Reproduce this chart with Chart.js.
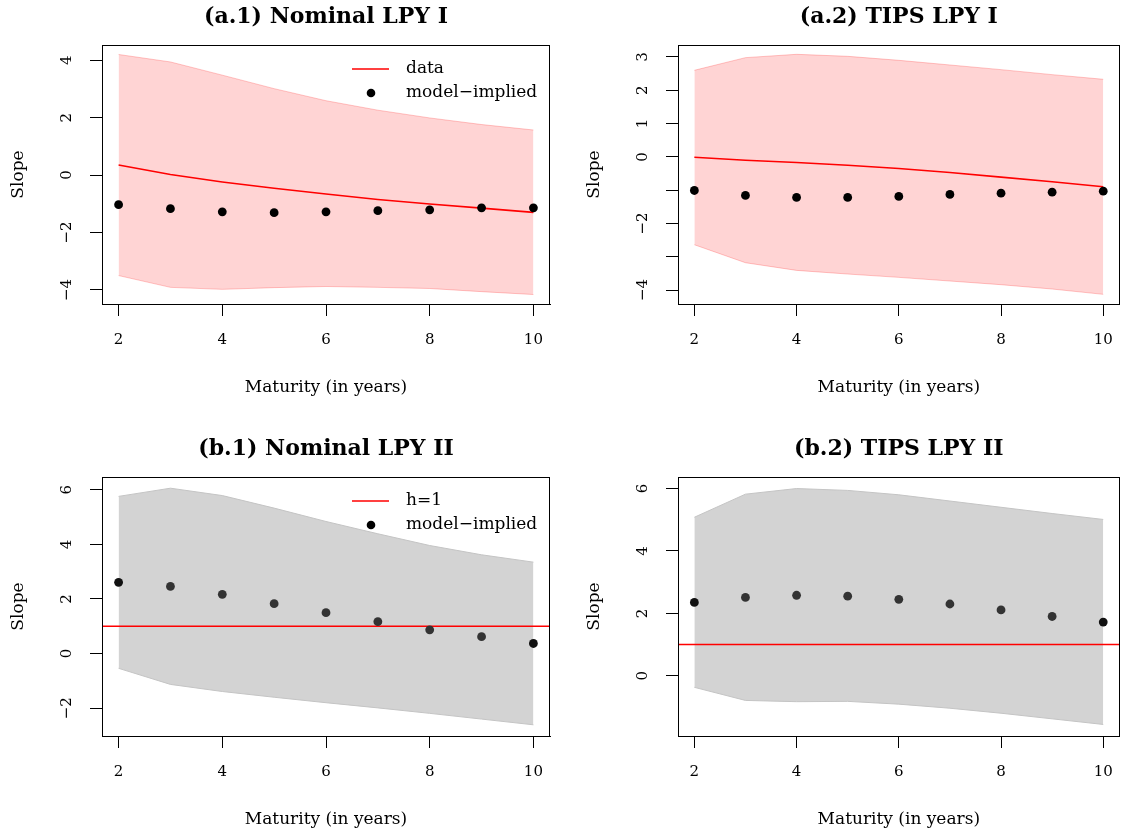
<!DOCTYPE html>
<html>
<head>
<meta charset="utf-8">
<script src="https://cdn.jsdelivr.net/npm/chart.js@4/dist/chart.umd.min.js"></script>
<style>
  body { margin: 0; background: #fff; }
  canvas { position: absolute; }
</style>
</head>
<body>
<canvas id="a1" width="562" height="403" style="left:0;top:0"></canvas>
<canvas id="a2" width="548" height="403" style="left:576px;top:0"></canvas>
<canvas id="b1" width="562" height="403" style="left:0;top:432px"></canvas>
<canvas id="b2" width="548" height="403" style="left:576px;top:432px"></canvas>
<script>
const maturities = [2, 3, 4, 5, 6, 7, 8, 9, 10]
const xTicks = [2, 4, 6, 8, 10]

// (a.1) Nominal LPY I
const nomIUpper = [4.20, 3.94, 3.48, 3.01, 2.59, 2.26, 1.99, 1.76, 1.57]
const nomILower = [-3.50, -3.91, -3.98, -3.92, -3.88, -3.91, -3.95, -4.06, -4.16]
const nomIData = [0.35, 0.02, -0.24, -0.46, -0.66, -0.85, -1.01, -1.15, -1.30]
const nomIModel = [-1.03, -1.17, -1.28, -1.31, -1.28, -1.24, -1.21, -1.14, -1.14]
const nomIYTicks = [-4, -2, 0, 2, 4]
const nomIYLabels = ['−4', '−2', '0', '2', '4']

// (a.2) TIPS LPY I
const tipsIUpper = [2.60, 2.98, 3.08, 3.02, 2.90, 2.76, 2.62, 2.47, 2.33]
const tipsILower = [-2.64, -3.18, -3.41, -3.52, -3.62, -3.73, -3.84, -3.97, -4.13]
const tipsIData = [-0.01, -0.10, -0.17, -0.25, -0.35, -0.47, -0.61, -0.75, -0.90]
const tipsIModel = [-1.01, -1.16, -1.22, -1.22, -1.19, -1.13, -1.09, -1.06, -1.03]
const tipsIYTicks = [-4, -3, -2, -1, 0, 1, 2, 3]
const tipsIYLabels = ['−4', '', '−2', '', '0', '1', '2', '3']

// (b.1) Nominal LPY II
const nomIIUpper = [5.76, 6.06, 5.79, 5.33, 4.84, 4.39, 3.96, 3.62, 3.35]
const nomIILower = [-0.54, -1.13, -1.39, -1.60, -1.80, -1.99, -2.19, -2.40, -2.61]
const nomIIModel = [2.61, 2.46, 2.17, 1.83, 1.50, 1.17, 0.87, 0.62, 0.37]
const nomIIYTicks = [-2, 0, 2, 4, 6]
const nomIIYLabels = ['−2', '0', '2', '4', '6']

// (b.2) TIPS LPY II
const tipsIIUpper = [5.08, 5.82, 6.00, 5.94, 5.80, 5.60, 5.40, 5.20, 5.01]
const tipsIILower = [-0.37, -0.79, -0.83, -0.82, -0.91, -1.04, -1.20, -1.38, -1.56]
const tipsIIModel = [2.35, 2.51, 2.58, 2.55, 2.45, 2.30, 2.11, 1.90, 1.72]
const tipsIIYTicks = [0, 2, 4, 6]
const tipsIIYLabels = ['0', '2', '4', '6']

const hLine = 1

const serif = '"DejaVu Serif", serif'
const pts = (arr) => maturities.map((m, i) => ({ x: m, y: arr[i] }))

// box, rotated y labels, legend, h=1 line
const decor = {
    id: 'decor',
    beforeDatasetDraw(chart, args, o) {
        if (args.index !== 0 || o.hline == null) return
        const ctx = chart.ctx, a = chart.chartArea
        const y = chart.scales.y.getPixelForValue(o.hline)
        ctx.save()
        ctx.strokeStyle = '#ff0000'
        ctx.lineWidth = 1.6
        ctx.beginPath()
        ctx.moveTo(a.left, y)
        ctx.lineTo(a.right, y)
        ctx.stroke()
        ctx.restore()
    },
    afterDraw(chart, args, o) {
        const ctx = chart.ctx, a = chart.chartArea
        ctx.save()
        ctx.strokeStyle = '#000'
        ctx.lineWidth = 1
        ctx.strokeRect(Math.round(a.left) + 0.5, Math.round(a.top) + 0.5,
            Math.round(a.right - a.left) - 1, Math.round(a.bottom - a.top))
        // y tick labels, rotated like R
        ctx.font = '15px ' + serif
        ctx.fillStyle = '#000'
        ctx.textAlign = 'center'
        ctx.textBaseline = 'middle'
        o.yTicks.forEach((v, i) => {
            if (!o.yLabels[i]) return
            const y = chart.scales.y.getPixelForValue(v)
            ctx.save()
            ctx.translate(a.left - 35, y)
            ctx.rotate(-Math.PI / 2)
            ctx.fillText(o.yLabels[i], 0, 0)
            ctx.restore()
        })
        // legend
        if (o.legend) {
            ctx.font = '17px ' + serif
            ctx.textAlign = 'left'
            const lx = a.right - 144
            const lineSet = chart.data.datasets[o.legend.line]
            const dotSet = chart.data.datasets[o.legend.dot]
            const y1 = a.top + 24, y2 = a.top + 48
            ctx.strokeStyle = '#ff0000'
            ctx.lineWidth = 1.6
            ctx.beginPath()
            ctx.moveTo(a.right - 198, y1)
            ctx.lineTo(a.right - 161, y1)
            ctx.stroke()
            ctx.fillStyle = '#000'
            ctx.fillText(lineSet ? lineSet.label : o.legend.lineLabel, lx, y1)
            ctx.beginPath()
            ctx.arc(a.right - 179, y2, 4.3, 0, Math.PI * 2)
            ctx.fill()
            ctx.fillText(dotSet.label, lx, y2)
        }
        ctx.restore()
    }
}

function makePanel(id, cfg) {
    const datasets = [
        {
            label: 'model−implied',
            data: pts(cfg.model),
            pointRadius: 4.4,
            pointBackgroundColor: cfg.dotColors,
            pointBorderWidth: 0,
            showLine: false
        }
    ]
    if (cfg.data) {
        datasets.push({
            label: 'data',
            data: pts(cfg.data),
            showLine: true,
            borderColor: '#ff0000',
            borderWidth: 1.6,
            pointRadius: 0
        })
    }
    const upIdx = datasets.length
    datasets.push({
        label: 'upper',
        data: pts(cfg.upper),
        showLine: true,
        borderColor: cfg.bandLine,
        borderWidth: 1,
        pointRadius: 0
    })
    datasets.push({
        label: 'lower',
        data: pts(cfg.lower),
        showLine: true,
        borderColor: cfg.bandLine,
        borderWidth: 1,
        pointRadius: 0,
        fill: upIdx,
        backgroundColor: cfg.bandFill
    })

    new Chart(document.getElementById(id), {
        type: 'scatter',
        data: { datasets: datasets },
        options: {
            responsive: false,
            animation: false,
            events: [],
            layout: { padding: { left: 0, right: cfg.padRight, top: 0, bottom: 5 } },
            plugins: {
                legend: { display: false },
                tooltip: { enabled: false },
                title: {
                    display: true,
                    text: cfg.title,
                    fullSize: false,
                    color: '#000',
                    font: { family: serif, size: 22, weight: 'bold' },
                    padding: { top: 4, bottom: 14.6 }
                },
                decor: {
                    yTicks: cfg.yTicks,
                    yLabels: cfg.yLabels,
                    hline: cfg.hline,
                    legend: cfg.legend
                }
            },
            scales: {
                x: {
                    type: 'linear',
                    min: 1.68,
                    max: 10.32,
                    afterBuildTicks: (s) => { s.ticks = xTicks.map((v) => ({ value: v })) },
                    afterFit: (s) => {
                        s.height = 94
                        s.paddingLeft = 0
                        s.paddingRight = 0
                    },
                    grid: { drawOnChartArea: false, tickLength: 12, color: '#000' },
                    border: { color: '#000' },
                    ticks: {
                        color: '#000',
                        padding: 15,
                        maxRotation: 0,
                        font: { family: serif, size: 15 },
                        callback: (v) => String(v)
                    },
                    title: {
                        display: true,
                        text: 'Maturity (in years)',
                        color: '#000',
                        font: { family: serif, size: 17 },
                        padding: { top: 0, bottom: 0 }
                    }
                },
                y: {
                    type: 'linear',
                    min: cfg.yMin,
                    max: cfg.yMax,
                    afterBuildTicks: (s) => { s.ticks = cfg.yTicks.map((v) => ({ value: v })) },
                    afterFit: (s) => {
                        s.width = 102
                        s.paddingTop = 0
                        s.paddingBottom = 0
                    },
                    grid: { drawOnChartArea: false, tickLength: 12, color: '#000' },
                    border: { color: '#000' },
                    ticks: { display: false },
                    title: {
                        display: true,
                        text: 'Slope',
                        color: '#000',
                        font: { family: serif, size: 17 },
                        padding: { top: 8, bottom: 0 }
                    }
                }
            }
        },
        plugins: [decor]
    })
}

const pinkFill = 'rgba(255,0,0,0.17)'
const pinkLine = 'rgba(255,0,0,0.22)'
const grayFill = '#d3d3d3'
const grayLine = '#c4c4c4'
const darkDots = ['#111', '#333', '#333', '#333', '#333', '#333', '#333', '#333', '#111']

makePanel('a1', {
    title: '(a.1) Nominal LPY I',
    upper: nomIUpper, lower: nomILower, data: nomIData, model: nomIModel,
    yMin: -4.49, yMax: 4.53, yTicks: nomIYTicks, yLabels: nomIYLabels,
    bandFill: pinkFill, bandLine: pinkLine, dotColors: '#000',
    padRight: 12,
    legend: { line: 1, dot: 0 }
})
makePanel('a2', {
    title: '(a.2) TIPS LPY I',
    upper: tipsIUpper, lower: tipsILower, data: tipsIData, model: tipsIModel,
    yMin: -4.42, yMax: 3.36, yTicks: tipsIYTicks, yLabels: tipsIYLabels,
    bandFill: pinkFill, bandLine: pinkLine, dotColors: '#000',
    padRight: 1
})
makePanel('b1', {
    title: '(b.1) Nominal LPY II',
    upper: nomIIUpper, lower: nomIILower, model: nomIIModel,
    yMin: -3.02, yMax: 6.47, yTicks: nomIIYTicks, yLabels: nomIIYLabels,
    bandFill: grayFill, bandLine: grayLine, dotColors: darkDots,
    padRight: 12, hline: hLine,
    legend: { line: -1, lineLabel: 'h=1', dot: 0 }
})
makePanel('b2', {
    title: '(b.2) TIPS LPY II',
    upper: tipsIIUpper, lower: tipsIILower, model: tipsIIModel,
    yMin: -1.93, yMax: 6.37, yTicks: tipsIIYTicks, yLabels: tipsIIYLabels,
    bandFill: grayFill, bandLine: grayLine, dotColors: darkDots,
    padRight: 1, hline: hLine
})
</script>
</body>
</html>
